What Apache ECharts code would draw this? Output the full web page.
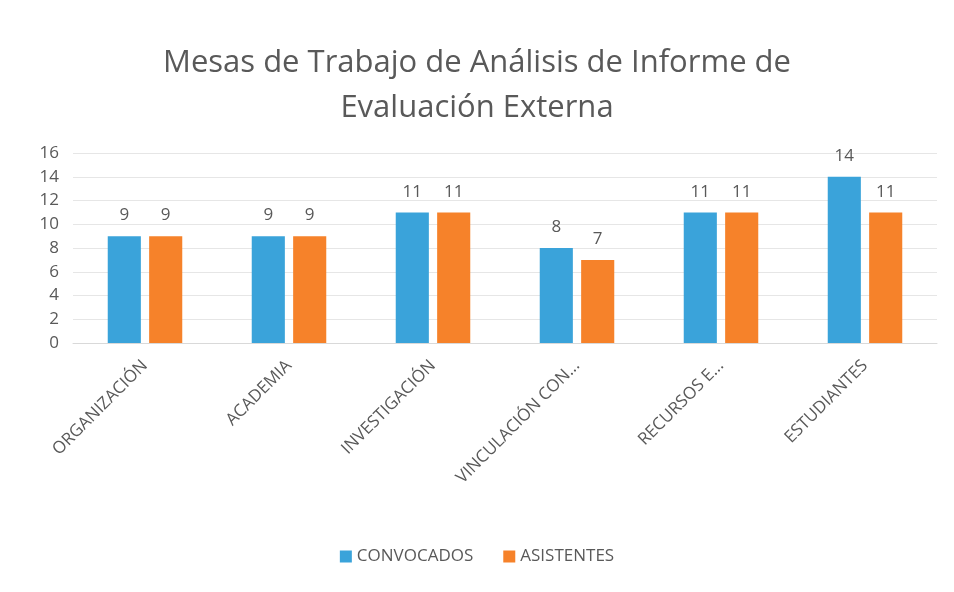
<!DOCTYPE html>
<html>
<head>
<meta charset="utf-8">
<script src="https://cdn.jsdelivr.net/npm/echarts@6/dist/echarts.min.js"></script>
<style>
  html, body { margin: 0; padding: 0; background: #fff; }
  #chart { width: 954px; height: 592px; }
</style>
</head>
<body>
<div id="chart"></div>
<script>
const categories = ['ORGANIZACIÓN', 'ACADEMIA', 'INVESTIGACIÓN', 'VINCULACIÓN CON...', 'RECURSOS E...', 'ESTUDIANTES']
const convocados = [9, 9, 11, 8, 11, 14]
const asistentes = [9, 9, 11, 7, 11, 11]
const yTicks = [0, 2, 4, 6, 8, 10, 12, 14, 16]

const textColor = '#595959'
const chart = echarts.init(document.getElementById('chart'))

const option = {
  backgroundColor: '#fff',
  textStyle: { fontFamily: 'Open Sans' },
  title: {
    text: 'Mesas de Trabajo de Análisis de Informe de\nEvaluación Externa',
    left: 'center',
    top: 36,
    textStyle: {
      fontFamily: 'Open Sans',
      fontSize: 31,
      fontWeight: 'normal',
      color: textColor,
      lineHeight: 45
    }
  },
  legend: {
    bottom: 22,
    left: 'center',
    itemWidth: 12,
    itemHeight: 12,
    itemGap: 30,
    icon: 'rect',
    textStyle: { fontSize: 17, color: textColor, fontFamily: 'Open Sans' },
    data: ['CONVOCADOS', 'ASISTENTES']
  },
  grid: {
    left: 73,
    right: 17,
    top: 153,
    height: 190
  },
  xAxis: {
    type: 'category',
    data: categories,
    axisLine: { show: true, lineStyle: { color: '#d9d9d9' } },
    axisTick: { show: false },
    axisLabel: {
      rotate: 45,
      interval: 0,
      margin: 20,
      fontSize: 17,
      color: textColor,
      fontFamily: 'Open Sans'
    }
  },
  yAxis: {
    type: 'value',
    min: yTicks[0],
    max: yTicks[yTicks.length - 1],
    interval: 2,
    axisLine: { show: false },
    axisTick: { show: false },
    axisLabel: { fontSize: 17, color: textColor, margin: 14, fontFamily: 'Open Sans' },
    splitLine: { lineStyle: { color: '#e6e6e6' } }
  },
  series: [
    {
      name: 'CONVOCADOS',
      type: 'bar',
      data: convocados,
      barWidth: '23%',
      barGap: '25%',
      itemStyle: { color: '#3aa3da' },
      label: { show: true, position: 'top', distance: 12, fontSize: 17, color: textColor }
    },
    {
      name: 'ASISTENTES',
      type: 'bar',
      data: asistentes,
      barWidth: '23%',
      itemStyle: { color: '#f6822a' },
      label: { show: true, position: 'top', distance: 12, fontSize: 17, color: textColor }
    }
  ]
}

chart.setOption(option)
window.addEventListener('resize', () => chart.resize())
</script>
</body>
</html>
